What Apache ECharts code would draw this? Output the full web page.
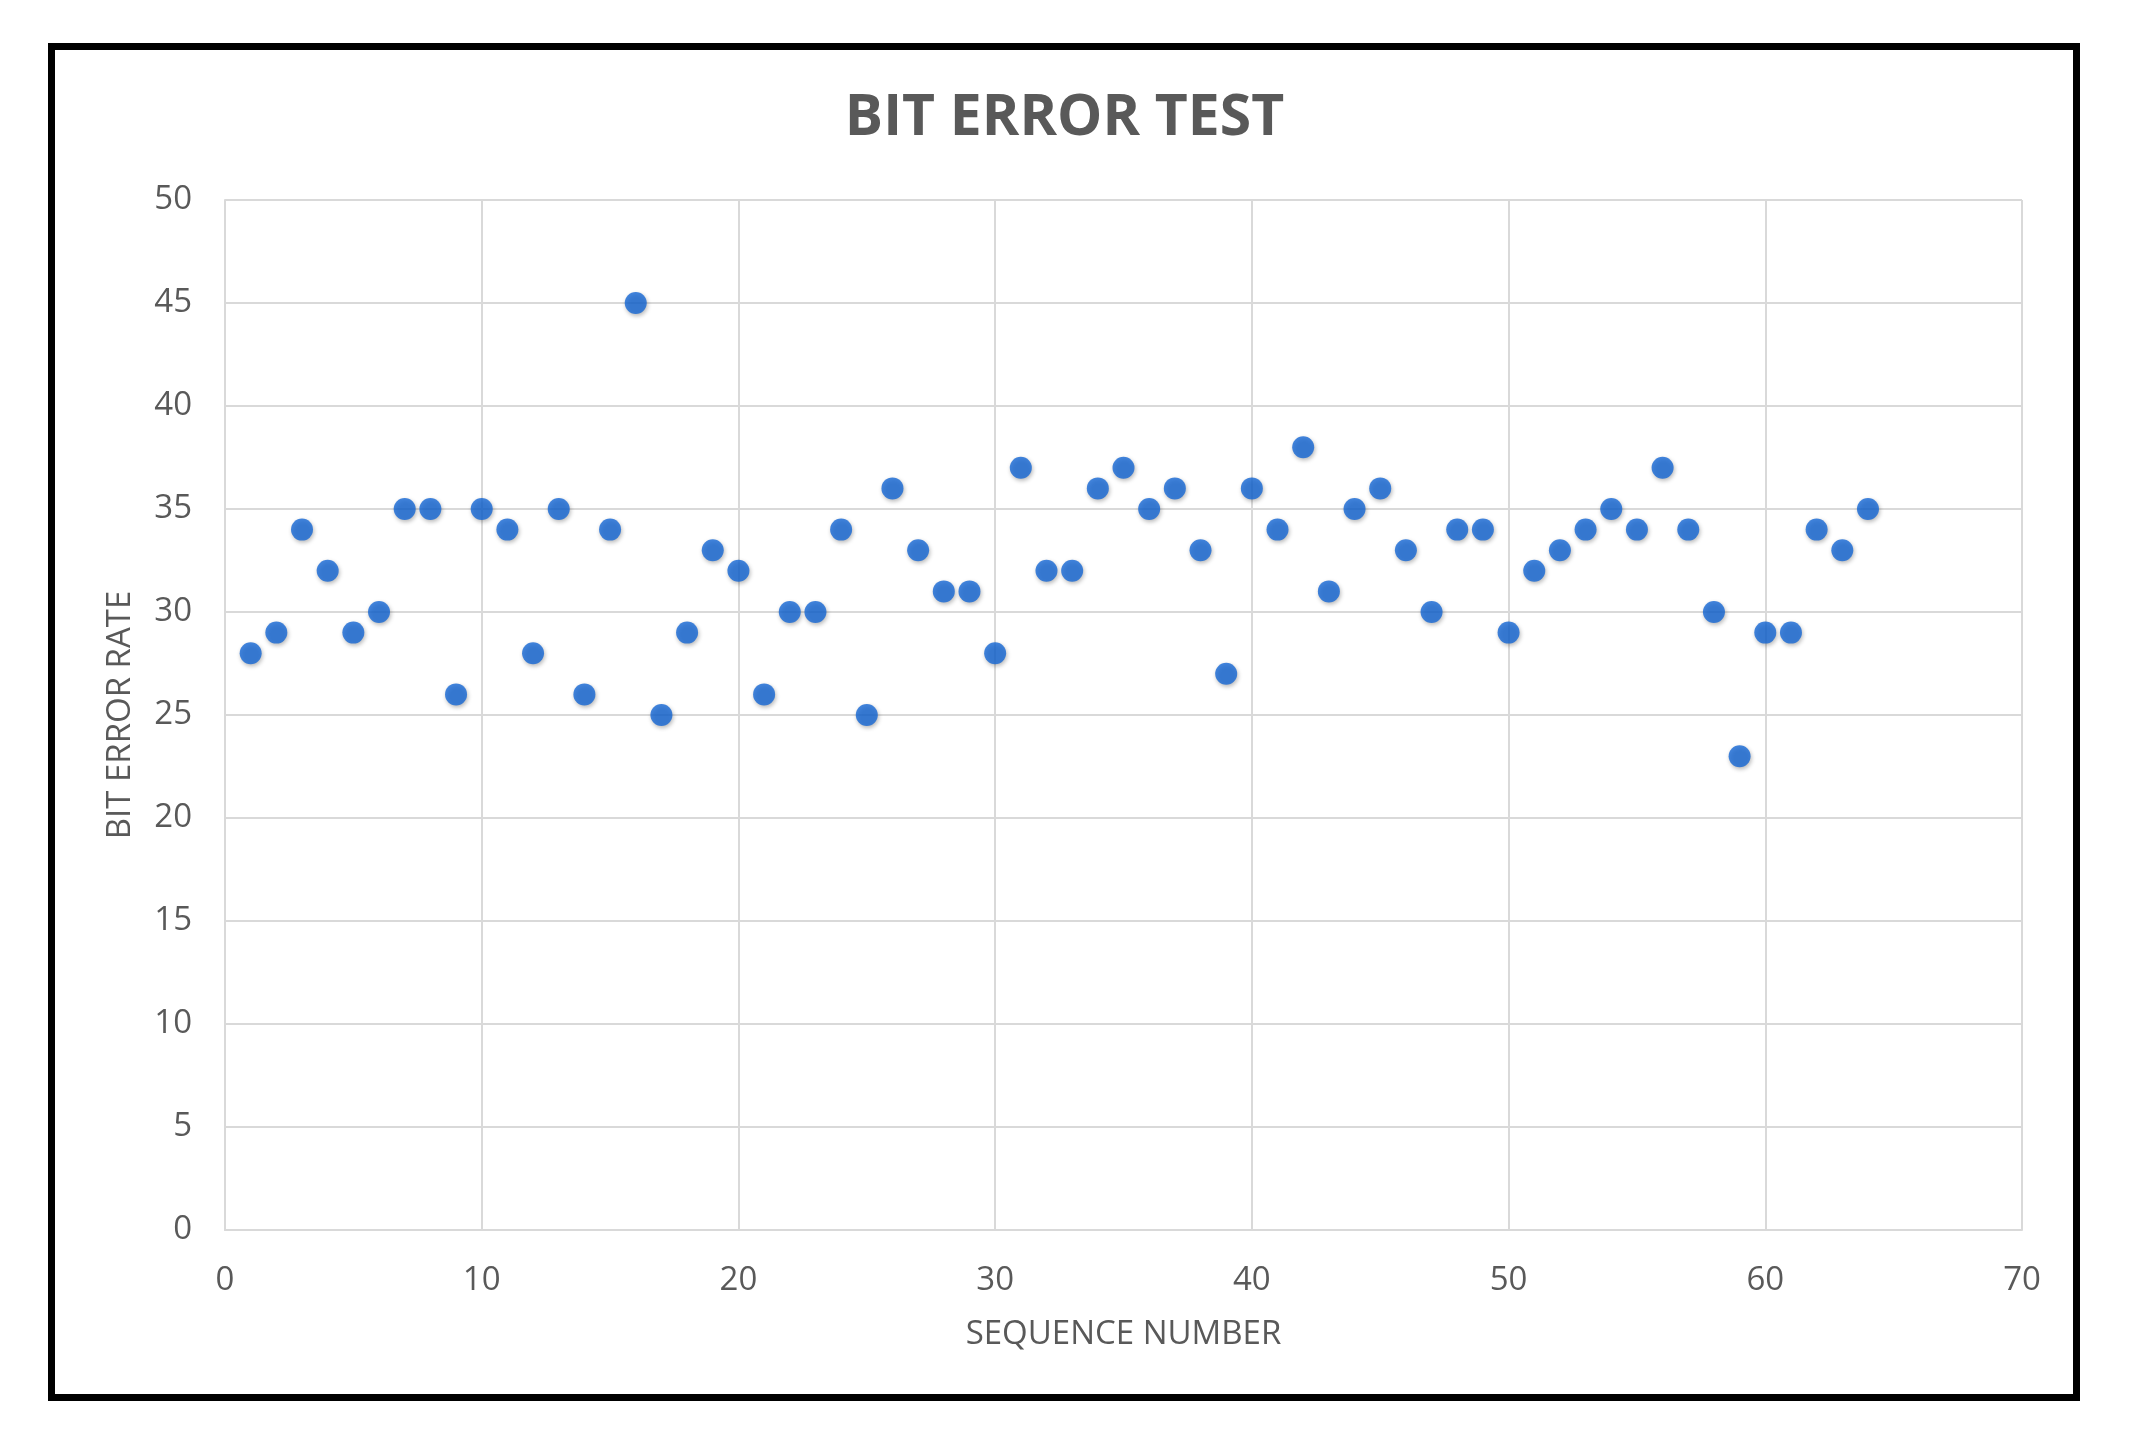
<!DOCTYPE html>
<html>
<head>
<meta charset="utf-8">
<title>Bit Error Test</title>
<script src="https://cdn.jsdelivr.net/npm/echarts@6/dist/echarts.min.js"></script>
<style>
  html, body { margin: 0; padding: 0; background: #fff; }
  #chart { width: 2129px; height: 1441px; }
</style>
</head>
<body>
<div id="chart"></div>
<script>
"use strict";

// sequence numbers 1..64 and the read-off bit error rates
var seqNumbers = [
  1, 2, 3, 4, 5, 6, 7, 8, 9, 10, 11, 12, 13, 14, 15, 16,
  17, 18, 19, 20, 21, 22, 23, 24, 25, 26, 27, 28, 29, 30, 31, 32,
  33, 34, 35, 36, 37, 38, 39, 40, 41, 42, 43, 44, 45, 46, 47, 48,
  49, 50, 51, 52, 53, 54, 55, 56, 57, 58, 59, 60, 61, 62, 63, 64
];
var errorRates = [
  28, 29, 34, 32, 29, 30, 35, 35, 26, 35, 34, 28, 35, 26, 34, 45,
  25, 29, 33, 32, 26, 30, 30, 34, 25, 36, 33, 31, 31, 28, 37, 32,
  32, 36, 37, 35, 36, 33, 27, 36, 34, 38, 31, 35, 36, 33, 30, 34,
  34, 29, 32, 33, 34, 35, 34, 37, 34, 30, 23, 29, 29, 34, 33, 35
];
var xTicks = [0, 10, 20, 30, 40, 50, 60, 70];
var yTicks = [0, 5, 10, 15, 20, 25, 30, 35, 40, 45, 50];

var textColor = "#595959";
var gridColor = "#d9d9d9";
var font = "'Open Sans', 'Noto Sans', sans-serif";

function initChart() {
  var myChart = echarts.init(document.getElementById("chart"));
  var points = seqNumbers.map(function (n, i) {
    return [n, errorRates[i]];
  });

  var option = {
    backgroundColor: "#fff",
    animation: false,
    title: {
      text: "BIT ERROR TEST",
      left: "center",
      top: 85,
      textStyle: {
        fontFamily: font,
        fontSize: 57,
        fontWeight: "bold",
        color: textColor,
      },
    },
    // black frame round the whole chart
    graphic: [
      {
        type: "rect",
        shape: { x: 51.5, y: 46.5, width: 2025, height: 1351 },
        style: { fill: null, stroke: "#000", lineWidth: 7 },
        silent: true,
      },
    ],
    grid: {
      left: 225,
      right: 107,
      top: 200,
      bottom: 211,
    },
    xAxis: {
      type: "value",
      min: xTicks[0],
      max: xTicks[xTicks.length - 1],
      interval: 10,
      name: "SEQUENCE NUMBER",
      nameLocation: "middle",
      nameGap: 88,
      nameTextStyle: { fontFamily: font, fontSize: 33, color: textColor },
      axisLine: { show: true, lineStyle: { color: gridColor, width: 2 } },
      axisTick: { show: false },
      axisLabel: { margin: 34, fontFamily: font, fontSize: 33, color: textColor },
      splitLine: { show: true, lineStyle: { color: gridColor, width: 2 } },
    },
    yAxis: {
      type: "value",
      min: yTicks[0],
      max: yTicks[yTicks.length - 1],
      interval: 5,
      name: "BIT ERROR RATE",
      nameLocation: "middle",
      nameGap: 88,
      nameTextStyle: { fontFamily: font, fontSize: 33, color: textColor },
      axisLine: { show: true, lineStyle: { color: gridColor, width: 2 } },
      axisTick: { show: false },
      axisLabel: { margin: 33, fontFamily: font, fontSize: 33, color: textColor },
      splitLine: { show: true, lineStyle: { color: gridColor, width: 2 } },
    },
    series: [
      {
        type: "scatter",
        data: points,
        symbol: "circle",
        symbolSize: 22,
        itemStyle: {
          color: "#1467d4",
          shadowColor: "rgba(0,0,0,0.35)",
          shadowBlur: 4,
          shadowOffsetX: 1,
          shadowOffsetY: 2,
        },
      },
    ],
  };
  myChart.setOption(option);
  return myChart;
}

initChart();
</script>
</body>
</html>
